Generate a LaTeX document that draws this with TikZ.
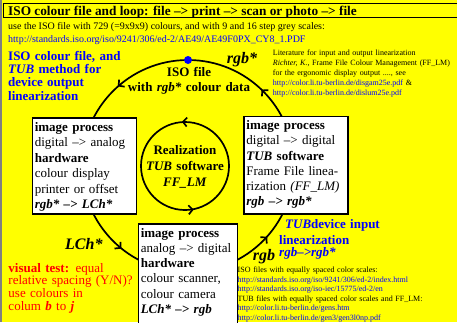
\documentclass[tikz,border=0pt]{standalone}
\usepackage{fontspec}
\setmainfont{Liberation Serif}
\usetikzlibrary{arrows.meta,decorations.markings}

\definecolor{pageyellow}{RGB}{255,255,0}
\definecolor{linkblue}{RGB}{0,0,255}
\definecolor{testred}{RGB}{255,0,0}
\definecolor{edgegrey}{RGB}{128,128,128}

\newcommand{\fs}[2]{\fontsize{#1}{#2}\selectfont}
\newcommand{\bi}[1]{\textbf{\textit{#1}}}

\tikzset{
  procbox/.style={draw, line width=1.2pt, fill=white, anchor=north west,
    align=left, inner xsep=2.5pt, inner ysep=0pt, text height=13.4pt,
    font=\fs{13}{15.5}},
  ringline/.style={line width=1.7pt, postaction={decorate}},
  tiptext/.style={anchor=base west, inner sep=0pt, font=\fs{16}{18}\bfseries\itshape},
  notes/.style={anchor=base west, align=left, inner sep=0pt, font=\fs{8}{10}},
  oneline/.style={anchor=base west, inner sep=0pt},
}

\begin{document}
\begin{tikzpicture}[x=1pt,y=-1pt,>={Straight Barb[length=4pt,width=9pt]}]
\useasboundingbox (0,0) rectangle (457,322);
\clip (0,0) rectangle (457,322);
\fill[pageyellow] (0,0) rectangle (457,322);
\fill[edgegrey] (0,0) rectangle (2,322);
\draw[line width=0.9pt] (3,3) rectangle (470,17.5);

% header lines
\node[oneline, font=\fs{13.3}{15}\bfseries] (title) at (8,15.7)
  {ISO colour file and loop: file --{>} print --{>} scan or photo --{>} file};
\node[oneline, font=\fs{10}{12}] (usefile) at (8,29.7)
  {use the ISO file with 729 (=9x9x9) colours, and with 9 and 16 step grey scales:};
\node[oneline, font=\fs{10}{12}, text=linkblue] (isourl) at (8,42.7)
  {http://standards.iso.org/iso/9241/306/ed-2/AE49/AE49F0PX\_CY8\_1.PDF};

% the loop
\draw[ringline, decoration={markings,
    mark=at position 0.125 with {\arrow{<}},
    mark=at position 0.367 with {\arrow{<}},
    mark=at position 0.644 with {\arrow{<}},
    mark=at position 0.881 with {\arrow{<}}}]
  (188,166) circle[radius=106];
\fill[linkblue] (188,60) circle[radius=4];
\draw[ringline, decoration={markings,
    mark=at position 0.24 with {\arrow{<}},
    mark=at position 0.76 with {\arrow{<}}}]
  (185,166) circle[radius=44];

\node[anchor=base, align=center, text width=140pt, inner sep=0pt, font=\fs{13}{15.7}\bfseries] (isofile) at (189,76)
  {ISO file\hspace*{9pt}\\with \textit{rgb*} colour data};
\node[anchor=base, align=center, text width=86pt, inner sep=0pt, font=\fs{13}{16}\bfseries] (realize) at (185,154.3)
  {Realization\\\textit{TUB} software\\\textit{FF\_LM}};

% process boxes
\node[procbox, text width=99pt, text depth=82.6pt] (outproc) at (31.7,117.3)
  {\textbf{image process}\\digital --{>} analog\\\textbf{hardware}\\colour display\\printer or offset\\\bi{rgb* --{>} LCh*}};
\node[procbox, text width=99pt, text height=13pt, text depth=84.3pt, font=\fs{13}{15.2}] (linproc) at (243.3,116)
  {\textbf{image process}\\digital --{>} digital\\\bi{TUB} \textbf{software}\\Frame File linea-\\rization \textit{(FF\_LM)}\\\bi{rgb --{>} rgb*}};
\node[procbox, text width=94pt, text depth=95pt, font=\fs{13}{15.2}] (inproc) at (137.7,223.3)
  {\textbf{image process}\\analog --{>} digital\\\textbf{hardware}\\colour scanner,\\colour camera\\\bi{LCh* --{>} rgb}};

% data labels
\node[tiptext] (rgbstar) at (226.7,63.3) {rgb*};
\node[tiptext] (lchstar) at (65,249.3) {LCh*};
\node[tiptext] (rgbin) at (252.7,260.5) {rgb};

% blue headings
\node[oneline, align=left, text width=130pt, text=linkblue, font=\fs{13}{13.2}\bfseries] (isohead) at (8,60.5)
  {ISO colour file, and\\\textit{TUB} method for\\device output\\linearization};
\node[oneline, align=left, text width=120pt, text=linkblue, font=\fs{13}{16}\bfseries] (tubhead) at (279,228)
  {\hspace*{6pt}\textit{TUB}device input\\linearization\\[-4pt]\textit{rgb--{>}rgb*}};

% literature and file notes
\node[notes, text width=182pt] (litnote) at (272.7,55)
  {Literature for input and output linearization\\
   \textit{Richter, K.}, Frame File Colour Management (FF\_LM)\\
   for the ergonomic display output ...., see\\
   \textcolor{linkblue}{http://color.li.tu-berlin.de/disgam25e.pdf} \&\\
   \textcolor{linkblue}{http://color.li.tu-berlin.de/dislum25e.pdf}};
\node[notes, text width=218pt, font=\fs{8}{9.6}] (filenote) at (237.5,272.5)
  {ISO files with equally spaced color scales:\\
   \textcolor{linkblue}{http://standards.iso.org/iso/9241/306/ed-2/index.html}\\
   \textcolor{linkblue}{http://standards.iso.org/iso-iec/15775/ed-2/en}\\
   TUB files with equally spaced color scales and FF\_LM:\\
   \textcolor{linkblue}{http://color.li.tu-berlin.de/gens.htm}\\
   \textcolor{linkblue}{http://color.li.tu-berlin.de/gen3/gen3l0np.pdf}};

% visual test
\node[oneline, align=left, text width=128pt, text=testred, font=\fs{13}{12.6}] (visualtest) at (8.3,272.3)
  {\textbf{visual test:} equal\\relative spacing (Y/N)?\\use colours in\\colum \bi{b} to \bi{j}};
\end{tikzpicture}
\end{document}
